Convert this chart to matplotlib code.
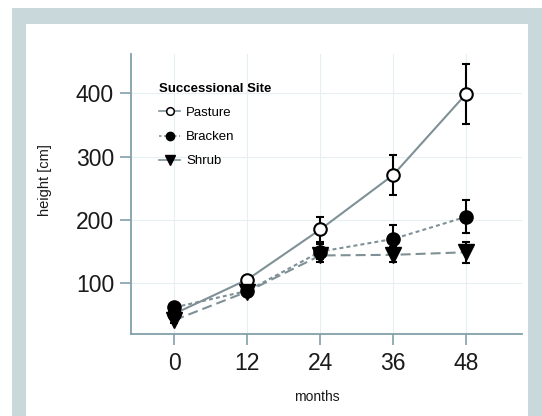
import matplotlib
matplotlib.use("Agg")
import matplotlib.pyplot as plt
from matplotlib.patches import Rectangle
from matplotlib.lines import Line2D

plt.rcParams['font.family'] = ['Liberation Sans', 'DejaVu Sans']

# Tree height over time at three successional sites
months = [0, 12, 24, 36, 48]
pasture = [52, 106, 185, 271, 399]
pasture_err = [3, 6, 19, 32, 48]
bracken = [62, 88, 150, 170, 205]
bracken_err = [4, 6, 12, 22, 26]
shrub = [42, 87, 144, 145, 149]
shrub_err = [4, 6, 10, 12, 17]
site_labels = ["Pasture", "Bracken", "Shrub"]
y_ticks = [100, 200, 300, 400]

W, H = 542, 416
fig = plt.figure(figsize=(W / 100, H / 100), dpi=100)
fig.patch.set_facecolor('white')

# framed panel
frame_col = '#c9d9db'
fig.patches.append(Rectangle((12 / W, 0), (W - 12) / W, (H - 8) / H,
                             transform=fig.transFigure, facecolor=frame_col,
                             edgecolor='none', zorder=-10))
fig.patches.append(Rectangle((26 / W, 0), (528 - 26) / W, (H - 24) / H,
                             transform=fig.transFigure, facecolor='white',
                             edgecolor='none', zorder=-9))

left, right = 130.7 / W, 522 / W
bottom, top = 1 - 334 / H, 1 - 54 / H
ax = fig.add_axes([left, bottom, right - left, top - bottom])
ax.set_facecolor('none')

line_col = '#7f9196'
axis_col = '#83a0aa'
grid_col = '#e8eff2'

for s in ['top', 'right']:
    ax.spines[s].set_visible(False)
for s in ['left', 'bottom']:
    ax.spines[s].set_color(axis_col)
    ax.spines[s].set_linewidth(1.3)

ax.set_xlim(-7.2, 57.2)
ax.set_ylim(20, 462)
ax.set_xticks(months)
ax.set_yticks(y_ticks)
ax.tick_params(axis='both', colors=axis_col, length=8, width=1.2,
               labelsize=16.5, labelcolor='#1a1a1a')
ax.tick_params(axis='x', pad=5)
ax.tick_params(axis='y', pad=4)
ax.grid(True, color=grid_col, linewidth=0.8, zorder=0)
ax.set_axisbelow(True)

lw = 1.5
# connecting lines
ax.plot(months, pasture, color=line_col, lw=lw, linestyle='-', zorder=2)
ax.plot(months, bracken, color=line_col, lw=lw, linestyle=(0, (1.9, 1.5)), zorder=2)
ax.plot(months, shrub, color=line_col, lw=lw, linestyle=(0, (4.8, 2.4)), zorder=2)

eb_kw = dict(fmt='none', ecolor='black', elinewidth=1.5, capsize=2.8, capthick=1.5)
ax.errorbar(months, pasture, yerr=pasture_err, zorder=3, **eb_kw)
ax.errorbar(months, bracken, yerr=bracken_err, zorder=3, **eb_kw)
ax.errorbar(months, shrub, yerr=shrub_err, zorder=3, **eb_kw)

# markers: pasture lowest, shrub on top
ax.plot(months, pasture, linestyle='none', marker='o', ms=9,
        mfc='white', mec='black', mew=1.5, zorder=4)
ax.plot(months, bracken, linestyle='none', marker='o', ms=9.5,
        mfc='black', mec='black', zorder=5)
ax.plot(months, shrub, linestyle='none', marker='v', ms=11,
        mfc='black', mec='black', zorder=6)

ax.set_ylabel('height [cm]', fontsize=10.5, color='#1a1a1a')
ax.yaxis.set_label_coords((52 - 130.7) / (522 - 130.7), (334 - 180.5) / (334 - 54))
ax.set_xlabel('months', fontsize=10, color='#1a1a1a')
ax.xaxis.set_label_coords((317 - 130.7) / (522 - 130.7), -(390 - 334) / (334 - 54))

handles = [
    Line2D([], [], color=line_col, lw=1.2, linestyle='-', marker='o', ms=5.5,
           mfc='white', mec='black', mew=1.1),
    Line2D([], [], color=line_col, lw=1.2, linestyle=(0, (1.5, 1.5)), marker='o',
           ms=6, mfc='black', mec='black'),
    Line2D([], [], color=line_col, lw=1.2, linestyle='-', marker='v', ms=7.5,
           mfc='black', mec='black'),
]
leg = ax.legend(handles, site_labels, title='Successional Site',
                loc='upper left', bbox_to_anchor=(159 / W, 1 - 83 / H),
                bbox_transform=fig.transFigure, frameon=False,
                fontsize=9.5, title_fontproperties={'weight': 'bold', 'size': 9.5},
                handlelength=1.6, handletextpad=0.45, labelspacing=0.9,
                borderpad=0, borderaxespad=0, alignment='left')

fig.savefig('out.png', dpi=100)
